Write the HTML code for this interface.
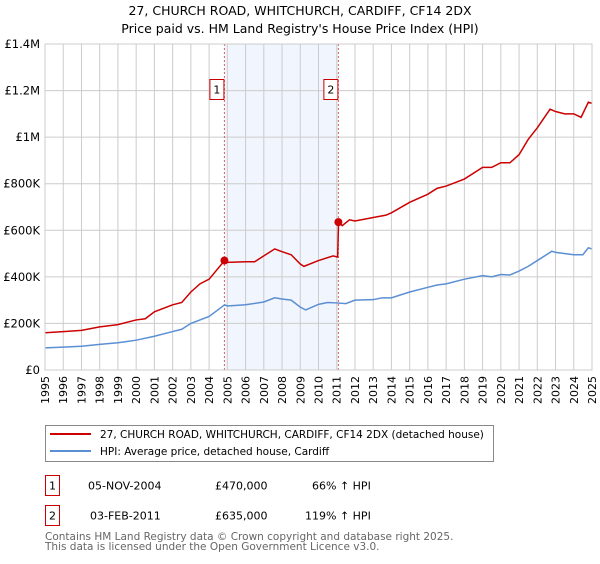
<!DOCTYPE html>
<html><head><meta charset="utf-8"><style>
body{margin:0;background:#fff;width:600px;height:560px;overflow:hidden;font-family:"DejaVu Sans","Liberation Sans",sans-serif;}
svg text{font-family:"DejaVu Sans","Liberation Sans",sans-serif;}
</style></head><body>
<svg id="chart" width="600" height="560">
<text x="300" y="15" text-anchor="middle" font-size="12.5">27, CHURCH ROAD, WHITCHURCH, CARDIFF, CF14 2DX</text>
<text x="300" y="33" text-anchor="middle" font-size="12.5">Price paid vs. HM Land Registry's House Price Index (HPI)</text>
<g id="plot"></g>
<g>
<rect x="45.5" y="425.5" width="448" height="36" fill="#fff" stroke="#888"/>
<line x1="50" y1="434" x2="91" y2="434" stroke="#cc0000" stroke-width="2"/>
<text x="100" y="438" font-size="10.5">27, CHURCH ROAD, WHITCHURCH, CARDIFF, CF14 2DX (detached house)</text>
<line x1="50" y1="451" x2="91" y2="451" stroke="#5b8fd4" stroke-width="2"/>
<text x="100" y="455" font-size="10.5">HPI: Average price, detached house, Cardiff</text>
</g>
<g font-size="11">
<rect x="45.5" y="475.5" width="14" height="20" fill="#fff" stroke="#cc0000"/>
<text x="52.5" y="489.5" text-anchor="middle">1</text>
<text x="88" y="489.5">05-NOV-2004</text>
<text x="215" y="489.5">£470,000</text>
<text x="312" y="489.5">66% ↑ HPI</text>
<rect x="45.5" y="505.5" width="14" height="20" fill="#fff" stroke="#cc0000"/>
<text x="52.5" y="519.5" text-anchor="middle">2</text>
<text x="90" y="519.5">03-FEB-2011</text>
<text x="215" y="519.5">£635,000</text>
<text x="305" y="519.5">119% ↑ HPI</text>
</g>
<text x="45" y="540" font-size="10.5" fill="#666">Contains HM Land Registry data © Crown copyright and database right 2025.</text>
<text x="45" y="550" font-size="10.5" fill="#666">This data is licensed under the Open Government Licence v3.0.</text>
</svg>
<script>
const yearTicks=[1995,1996,1997,1998,1999,2000,2001,2002,2003,2004,2005,2006,2007,2008,2009,2010,2011,2012,2013,2014,2015,2016,2017,2018,2019,2020,2021,2022,2023,2024,2025];
const priceTicks=[0,200000,400000,600000,800000,1000000,1200000,1400000];
const priceTickLabels=["£0","£200K","£400K","£600K","£800K","£1M","£1.2M","£1.4M"];
const hpiX=[1995,1996,1997,1998,1999,2000,2001,2002,2002.5,2003,2004,2004.85,2005,2006,2007,2007.6,2008,2008.5,2009,2009.3,2010,2010.5,2011,2011.5,2012,2013,2013.5,2014,2015,2016,2016.5,2017,2018,2019,2019.5,2020,2020.5,2021,2021.5,2022,2022.8,2023,2024,2024.5,2024.8,2025];
const hpiY=[95000,98000,102000,110000,117000,128000,145000,165000,175000,200000,230000,280000,275000,280000,292000,310000,305000,300000,270000,258000,282000,290000,288000,285000,300000,302000,310000,310000,335000,355000,365000,370000,390000,405000,400000,410000,408000,425000,445000,470000,510000,505000,495000,495000,525000,520000];
const propX=[1995,1996,1997,1998,1999,2000,2000.5,2001,2002,2002.5,2003,2003.5,2004,2004.85,2005,2006,2006.5,2007,2007.6,2008,2008.5,2009,2009.2,2010,2010.8,2011.05,2011.1,2011.3,2011.7,2012,2013,2013.7,2014,2015,2016,2016.5,2017,2018,2019,2019.5,2020,2020.5,2021,2021.5,2022,2022.7,2023,2023.5,2024,2024.4,2024.8,2025];
const propY=[160000,165000,170000,185000,195000,215000,220000,250000,280000,290000,335000,370000,390000,470000,462000,465000,465000,490000,520000,508000,495000,455000,445000,470000,490000,485000,635000,620000,645000,640000,655000,665000,675000,720000,755000,780000,790000,820000,870000,870000,890000,890000,925000,990000,1040000,1120000,1110000,1100000,1100000,1085000,1150000,1145000];
const saleDates=[2004.84,2011.09];
const salePrices=[470000,635000];
const saleLabels=["1","2"];

const X0=45,X1=592,Y0=370,Y1=44;
const xs=y=>X0+(y-1995)/(2025-1995)*(X1-X0);
const ys=v=>Y0-v/1400000*(Y0-Y1);
const g=document.getElementById('plot');
const NS='http://www.w3.org/2000/svg';
function mk(t,a){const e=document.createElementNS(NS,t);for(const k in a)e.setAttribute(k,a[k]);g.appendChild(e);return e;}
let sh=mk('rect',{x:xs(saleDates[0]),y:Y1,width:xs(saleDates[1])-xs(saleDates[0]),height:Y0-Y1,fill:'#eef3fc',opacity:0.8});


yearTicks.forEach(y=>{
 const l=mk('line',{x1:xs(y),x2:xs(y),y1:Y1,y2:Y0,stroke:'#cccccc'});
 
 
 const t=mk('text',{transform:`translate(${xs(y)+4},${Y0+6}) rotate(-90)`,'text-anchor':'end','font-size':11});
 t.textContent=y;
 
 
});
priceTicks.forEach((v,i)=>{
 const l=mk('line',{x1:X0,x2:X1,y1:ys(v),y2:ys(v),stroke:'#cccccc'});
 
 
 const t=mk('text',{x:X0-5,y:ys(v)+4,'text-anchor':'end','font-size':11.5});
 t.textContent=priceTickLabels[i];
 
 
});
saleDates.forEach((d,i)=>{
 const l=mk('line',{x1:xs(d),x2:xs(d),y1:Y1,y2:Y0,stroke:'#e06060','stroke-dasharray':'2,2'});
 
 
 const r=mk('rect',{x:xs(d)-14.5,y:79.5,width:14,height:20,fill:'#fff',stroke:'#cc0000'});
 
 
 const t=mk('text',{x:xs(d)-7.5,y:93.5,'text-anchor':'middle','font-size':11});
 t.textContent=saleLabels[i];
 
 
});
const hp=mk('polyline',{points:hpiX.map((x,i)=>xs(x)+','+ys(hpiY[i])).join(' '),fill:'none',stroke:'#5b8fd4','stroke-width':1.5});


const pp=mk('polyline',{points:propX.map((x,i)=>xs(x)+','+ys(propY[i])).join(' '),fill:'none',stroke:'#cc0000','stroke-width':1.5});


saleDates.forEach((d,i)=>{
 const c=mk('circle',{cx:xs(d),cy:ys(salePrices[i]),r:4,fill:'#cc0000'});
 
 
});
const b=mk('rect',{x:X0,y:Y1,width:X1-X0,height:Y0-Y1,fill:'none',stroke:'#cccccc'});


</script>
</body></html>
